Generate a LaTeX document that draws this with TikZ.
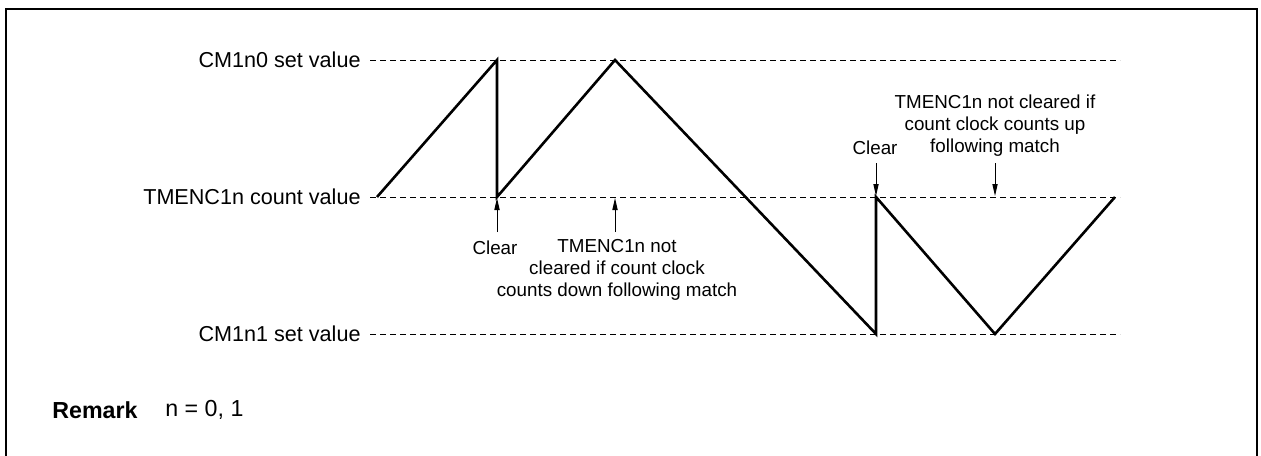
\documentclass[tikz,border=0pt]{standalone}
\usepackage{fontspec}
\setmainfont{Liberation Sans}
\usetikzlibrary{arrows.meta}
\begin{document}
\begin{tikzpicture}[x=0.5pt,y=-0.5pt,
  lbl/.style={inner sep=0pt,font=\fontsize{10.8}{12}\selectfont},
  lvl/.style={lbl,anchor=east},
  level/.style={line width=0.5pt,dash pattern=on 3pt off 2pt},
  wave/.style={line width=1.3pt,line join=miter},
  marker/.style={line width=0.5pt,-{Triangle[length=6pt,width=2.6pt]}},
  note/.style={inner sep=0pt,align=center,font=\fontsize{9.4}{11}\selectfont},
  rmk/.style={inner sep=0pt,anchor=west,font=\fontsize{11.6}{13}\selectfont}]
\useasboundingbox (0,0) rectangle (1261,455);
\draw[line width=1.3pt] (6,460) -- (6,9) -- (1257,9) -- (1257,460);
% level labels
\node[lvl] (lt) at (361,60) {CM1n0 set value};
\node[lvl] (lm) at (361,197) {TMENC1n count value};
\node[lvl] (lb) at (361,334) {CM1n1 set value};
\coordinate (st) at (370,60);
\coordinate (sm) at (370,197);
\coordinate (sb) at (370,334);
\coordinate (et) at (1120,60);
\coordinate (em) at (1120,197);
\coordinate (eb) at (1120,334);
\draw[level] (st) -- (et);
\draw[level] (sm) -- (em);
\draw[level] (sb) -- (eb);
% waveform
\coordinate (w0) at (377,197);
\coordinate (w1) at (497,60);
\coordinate (w2) at (497,197);
\coordinate (w3) at (615,60);
\coordinate (w4) at (876,334);
\coordinate (w5) at (876,197);
\coordinate (w6) at (995,334);
\coordinate (w7) at (1115,197);
\draw[wave] (w0) -- (w1) -- (w2) -- (w3) -- (w4) -- (w5) -- (w6) -- (w7);
% lower annotations
\coordinate (a1s) at (497,232);
\coordinate (a1e) at (497,198);
\coordinate (a2s) at (615,232);
\coordinate (a2e) at (615,198);
\draw[marker] (a1s) -- (a1e);
\draw[marker] (a2s) -- (a2e);
\node[note] (c1) at (495,248) {Clear};
\node[note] (n1) at (617,270) {TMENC1n not\\cleared if count clock\\counts down following match};
% upper annotations
\coordinate (a3s) at (876,163);
\coordinate (a3e) at (876,196);
\coordinate (a4s) at (995,163);
\coordinate (a4e) at (995,196);
\draw[marker] (a3s) -- (a3e);
\draw[marker] (a4s) -- (a4e);
\node[note] (c2) at (875,148) {Clear};
\node[note] (n2) at (995,126) {TMENC1n not cleared if\\count clock counts up\\following match};
% remark
\node[rmk,font=\fontsize{11.6}{13}\selectfont\bfseries] (rm) at (52,410) {Remark};
\node[rmk] (rv) at (165,410) {n = 0, 1};
\end{tikzpicture}
\end{document}
